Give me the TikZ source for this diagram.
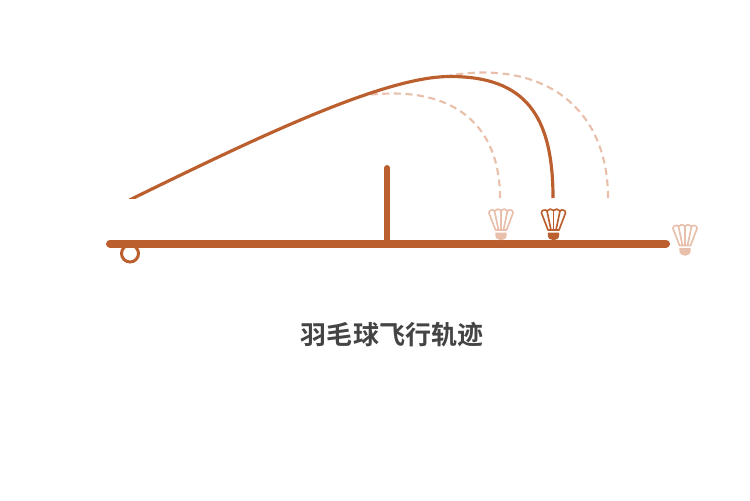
\documentclass[tikz,border=0pt]{standalone}
\usepackage{fontspec}
\setmainfont{Liberation Sans}
\newfontfamily\cjkbold[BoldFont={Noto Sans CJK SC Bold}]{Noto Sans CJK SC}
\usepackage{xcolor}
\definecolor{shuttledark}{HTML}{BC5F2E}
\definecolor{shuttlelight}{HTML}{E8BFAA}
\definecolor{titlegray}{HTML}{444444}
\tikzset{
  pathdash/.style={shuttlelight,line width=1.2pt,dash pattern=on 4pt off 2.6pt},
  pics/shuttle/.style={code={
    \draw[#1,line width=0.95pt,line join=round]
      (-5.5,20) -- (-12,3) .. controls (-12.5,0) and (-8,-1) .. (-6.5,1)
      .. controls (-5,-1.5) and (-1.5,-1.5) .. (0,0.5)
      .. controls (1.5,-1.5) and (5,-1.5) .. (6.5,1)
      .. controls (8,-1) and (12.5,0) .. (12,3) -- (5.5,20) -- cycle;
    \draw[#1,line width=0.95pt] (-6.5,1) -- (-2.5,20);
    \draw[#1,line width=0.95pt] (0,0.5) -- (0,20);
    \draw[#1,line width=0.95pt] (6.5,1) -- (2.5,20);
    \fill[#1] (-5.7,22.5) -- (5.7,22.5) -- (5.7,25) .. controls (5.7,32) and (-5.7,32) .. (-5.7,25) -- cycle;
  }}
}
\begin{document}
\begin{tikzpicture}[x=0.02cm,y=-0.02cm]
  \useasboundingbox (0,0) rectangle (750,500);
  \begin{scope}
    \clip (0,0) rectangle (750,198);
    \draw[pathdash] (500,198) .. controls (500,130) and (460,93.5) .. (393,93.5)
      .. controls (386,93.5) and (376,94) .. (365,95);
    \draw[pathdash] (608,198) .. controls (608,120) and (560,72.5) .. (483,72.5)
      .. controls (475,72.5) and (465,73) .. (450,75.5);
    \draw[shuttledark,line width=1.8pt] (129.5,200) .. controls (262,135) and (385,76.5) .. (450,76.5)
      .. controls (525,76.5) and (553,115) .. (553,198);
  \end{scope}
  \draw[shuttledark,line width=3.4pt,line cap=round] (387.3,168) -- (387.3,243);
  \draw[shuttledark,line width=4.6pt,line cap=round] (110,243.6) -- (666,243.6);
  \draw[shuttledark,line width=1.7pt] (130,253.5) circle (8.5);
  \pic at (501,210) {shuttle=shuttlelight};
  \pic at (553.5,210) {shuttle=shuttledark};
  \pic at (685,225.5) {shuttle=shuttlelight};
  \node[text=titlegray,font=\cjkbold\bfseries\fontsize{14.8pt}{18pt}\selectfont] (title) at (392,335) {羽毛球飞行轨迹};
\end{tikzpicture}
\end{document}
